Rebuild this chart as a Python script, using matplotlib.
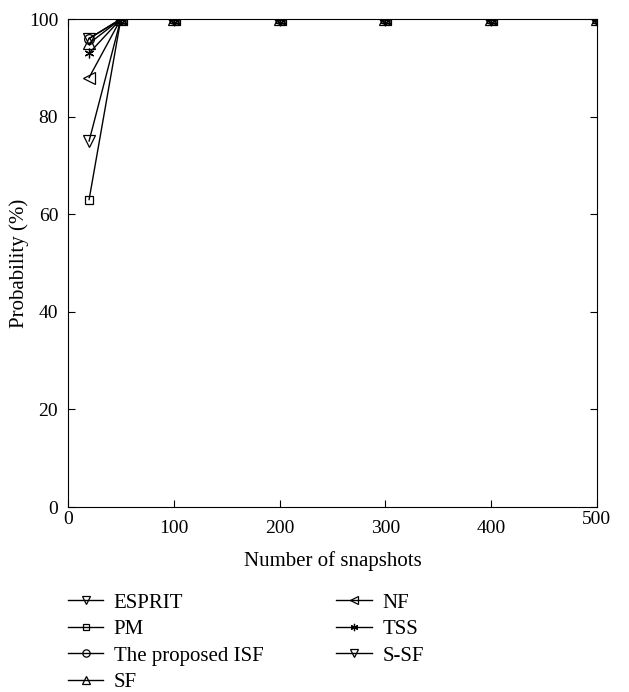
import matplotlib.pyplot as plt

plt.rcParams['font.family'] = ['Liberation Serif', 'DejaVu Serif']
plt.rcParams['font.size'] = 15

snapshots = [20, 50, 100, 200, 300, 400, 500]

esprit = [75, 100, 100, 100, 100, 100, 100]
pm = [63, 100, 100, 100, 100, 100, 100]
isf = [96, 100, 100, 100, 100, 100, 100]
sf = [95, 100, 100, 100, 100, 100, 100]
nf = [88, 100, 100, 100, 100, 100, 100]
tss = [93, 100, 100, 100, 100, 100, 100]
ssf = [96, 100, 100, 100, 100, 100, 100]

asterisk = (6, 2, 0)
series = [
    ('ESPRIT', esprit, 'v', 8.5),
    ('PM', pm, 's', 6),
    ('The proposed ISF', isf, 'o', 7),
    ('SF', sf, '^', 8.5),
    ('NF', nf, '<', 8.5),
    ('TSS', tss, asterisk, 7),
    ('S-SF', ssf, 'v', 8.5),
]

fig = plt.figure(figsize=(6.29, 6.92), dpi=100)
ax = fig.add_axes([0.108, 0.2673, 0.841, 0.7052])

for name, vals, m, ms in series:
    ax.plot(snapshots, vals, color='black', linewidth=1.0, marker=m,
            markersize=ms, markerfacecolor='none',
            markeredgecolor='black', markeredgewidth=0.9, label=name)

ax.set_xlim(0, 500)
ax.set_ylim(0, 100)
ax.set_xticks([0, 100, 200, 300, 400, 500])
ax.set_yticks([0, 20, 40, 60, 80, 100])
ax.tick_params(direction='in', top=True, right=True, length=5, labelsize=14)
ax.tick_params(axis='y', pad=7)
ax.tick_params(axis='x', pad=9)
# end labels sit a bit higher
for i in (0, 5):
    ax.get_xticklabels()[i].set_y(0.018)
ax.set_xlabel('Number of snapshots', fontsize=15, labelpad=10.5)
ax.set_ylabel('Probability (%)', fontsize=15, labelpad=0)

fig.legend(loc='upper left', bbox_to_anchor=(0.108, 0.143), ncol=2,
           frameon=False, fontsize=15, handlelength=1.7, columnspacing=3.5,
           labelspacing=0.33, handletextpad=0.5, borderpad=0,
           borderaxespad=0, markerscale=0.75)

fig.savefig('out.png', dpi=100)
